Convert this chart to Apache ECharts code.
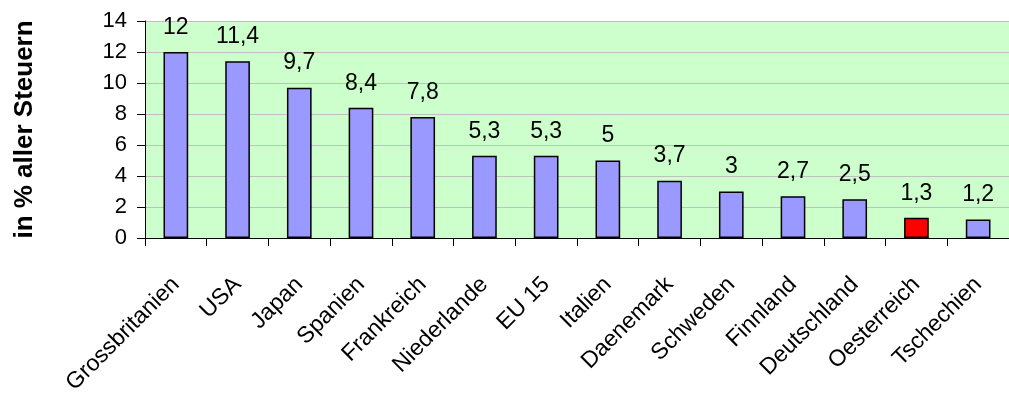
<!DOCTYPE html>
<html><head><meta charset="utf-8">
<script src="https://cdn.jsdelivr.net/npm/echarts@6/dist/echarts.min.js"></script>
<style>html,body{margin:0;padding:0;background:#fff}#c{width:1009px;height:410px}</style>
</head><body><div id="c"></div>
<script>
const categories = ["Grossbritanien","USA","Japan","Spanien","Frankreich","Niederlande","EU 15","Italien","Daenemark","Schweden","Finnland","Deutschland","Oesterreich","Tschechien"];
const values = [12, 11.4, 9.7, 8.4, 7.8, 5.3, 5.3, 5, 3.7, 3, 2.7, 2.5, 1.3, 1.2];
const highlight = "Oesterreich";
const yTitle = "in % aller Steuern";

const chart = echarts.init(document.getElementById('c'), null, {renderer:'canvas'});
const font = 'Liberation Sans, Arial, sans-serif';
chart.setOption({
  animation:false,
  backgroundColor:'#fff',
  grid:{left:145, top:21, bottom:172, right:-13, containLabel:false,
        show:true, backgroundColor:'#ccffcc', borderWidth:0},
  xAxis:{type:'category', data:categories,
    axisLine:{lineStyle:{color:'#000', width:1}},
    axisTick:{show:true, length:8, lineStyle:{color:'#000'}},
    axisLabel:{rotate:45, margin:43, fontFamily:font, fontSize:23, color:'#000', interval:0}},
  yAxis:{type:'value', min:0, max:14, interval:2,
    name:yTitle, nameLocation:'middle', nameGap:107,
    nameTextStyle:{fontFamily:font, fontSize:26, fontWeight:'bold', color:'#000'},
    axisLine:{show:true, lineStyle:{color:'#000'}},
    axisTick:{show:true, length:8, lineStyle:{color:'#000'}},
    axisLabel:{fontFamily:font, fontSize:22, color:'#000', margin:18},
    splitLine:{show:true, lineStyle:{color:'#c0c0c0', width:1}}},
  series:[{type:'bar', barWidth:'40%',
    data: values.map((v,i)=>({value:v, itemStyle:{color: categories[i]===highlight ? '#ff0000' : '#9999ff'}})),
    itemStyle:{borderColor:'#000', borderWidth:1.5},
    label:{show:true, position:'top', distance:13, fontFamily:font, fontSize:23, color:'#000',
      formatter:p=>String(p.value).replace('.',',')}}]
});
</script></body></html>
